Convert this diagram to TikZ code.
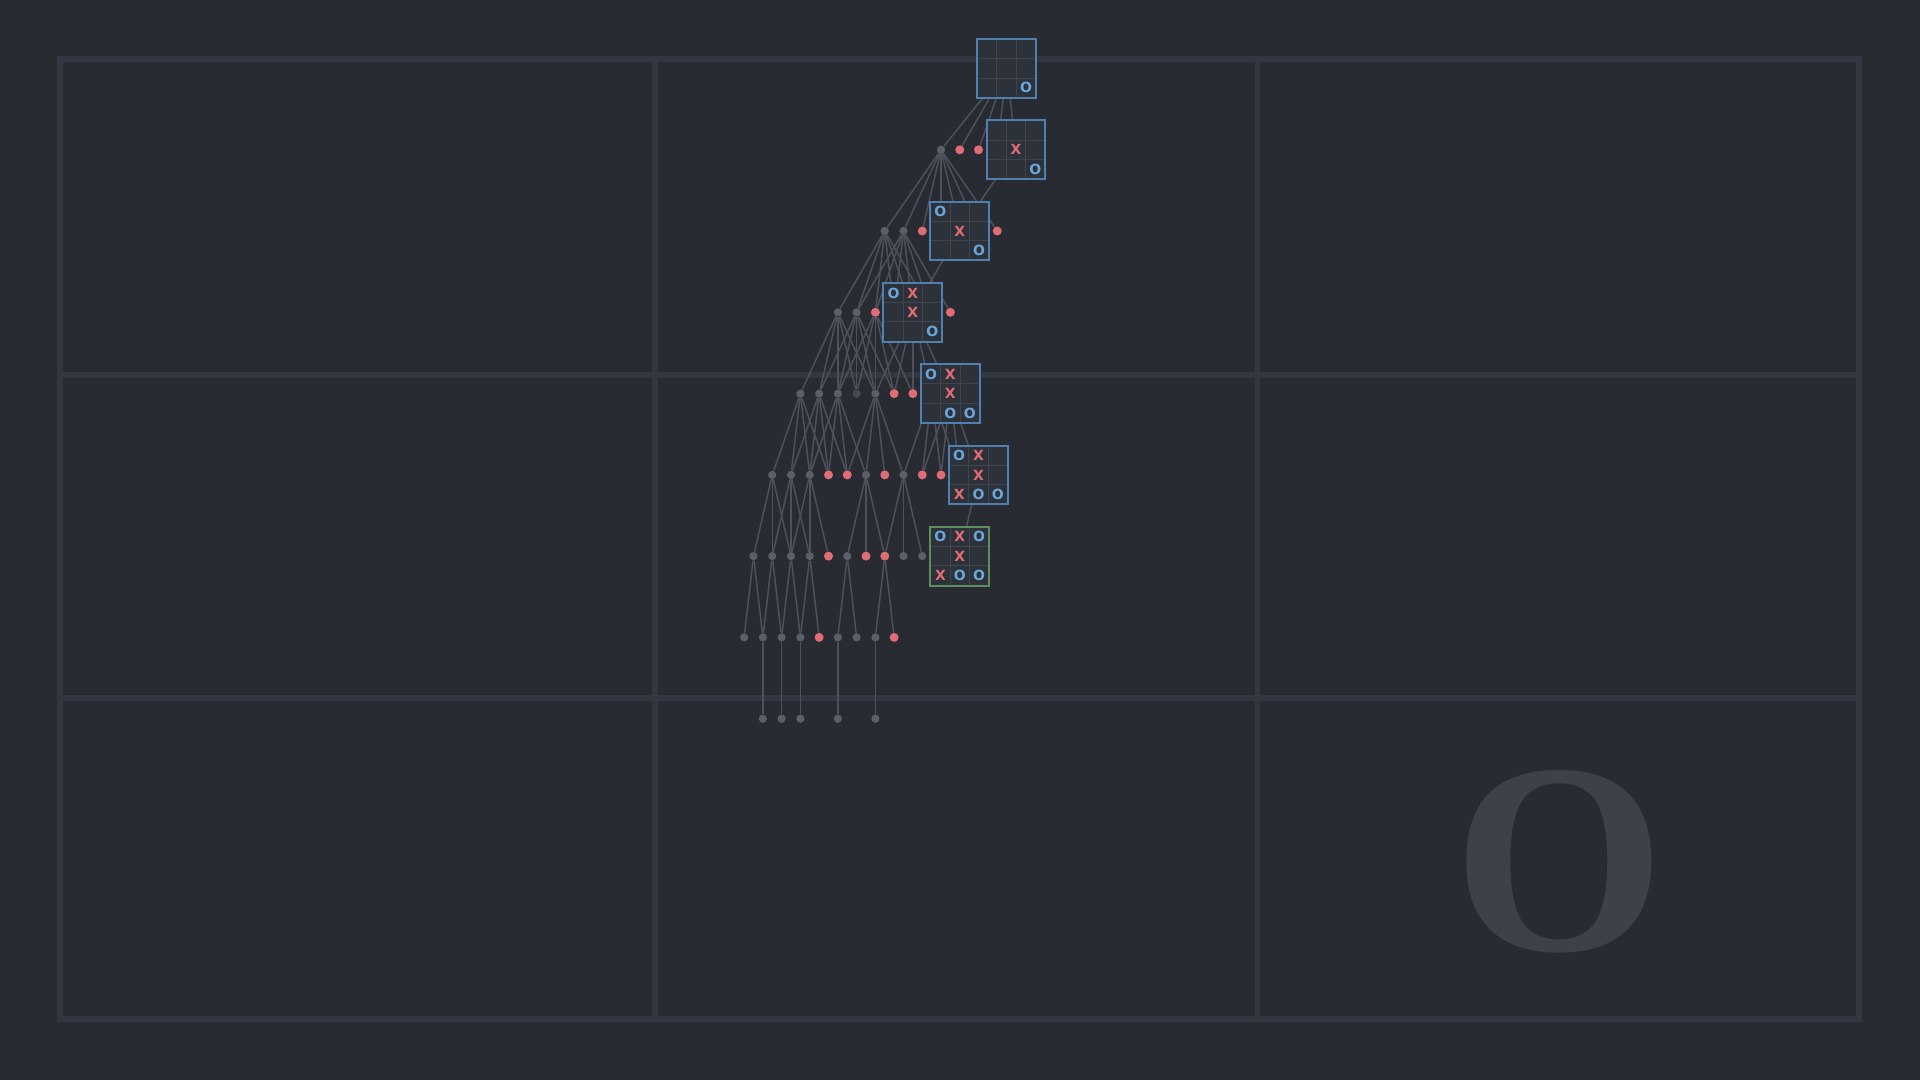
\documentclass[tikz,border=0pt]{standalone}
\usepackage{fontspec}
\newfontfamily\markfont{DejaVu Sans}
\newfontfamily\bigserif{Liberation Serif}
\definecolor{bgc}{HTML}{282B32}
\definecolor{gridc}{HTML}{333741}
\definecolor{edgec}{HTML}{4D515B}
\definecolor{gdotc}{HTML}{5B5F6A}
\definecolor{ddotc}{HTML}{464953}
\definecolor{rdotc}{HTML}{E06C75}
\definecolor{boardfill}{HTML}{2D3139}
\definecolor{cellc}{HTML}{40444E}
\definecolor{blueb}{HTML}{5080B0}
\definecolor{greenb}{HTML}{5F8D5F}
\definecolor{xc}{HTML}{E06C75}
\definecolor{oc}{HTML}{6AA8DC}
\definecolor{bigoc}{HTML}{3D414A}
\pgfdeclarelayer{under}
\pgfsetlayers{under,main}
\tikzset{
  gdot/.style={circle,fill=gdotc,inner sep=0pt,minimum size=4.1pt},
  ddot/.style={gdot,fill=ddotc},
  rdot/.style={circle,fill=rdotc,inner sep=0pt,minimum size=4.5pt},
  board/.style={rectangle,fill=boardfill,inner sep=0pt,minimum size=29pt},
  link/.style={draw=edgec,line width=0.75pt},
  cellline/.style={draw=cellc,line width=0.5pt},
  Xmk/.style={text=xc,font=\markfont\bfseries\fontsize{7}{7}\selectfont,inner sep=0pt},
  Omk/.style={text=oc,font=\markfont\bfseries\fontsize{7}{7}\selectfont,inner sep=0pt},
  gridline/.style={draw=gridc,line width=2.8pt},
}
\newcommand\nd[4]{\node[#1] (#2) at ({941+9.375*(#3)},#4) {};}
\newcommand\tttboard[5]{%
  \node[board] (#1) at ({941+9.375*(#2)},#3) {};
  \begin{scope}[shift={(#1.center)}]
    \draw[cellline] (-9.67,-29) -- (-9.67,29);
    \draw[cellline] (9.67,-29) -- (9.67,29);
    \draw[cellline] (-29,-9.67) -- (29,-9.67);
    \draw[cellline] (-29,9.67) -- (29,9.67);
    \foreach \c/\m in {#4}{%
      \pgfmathtruncatemacro\rr{\c/3}%
      \pgfmathtruncatemacro\cc{\c-3*\rr}%
      \node[\m mk] (#1-\c) at ({(\cc-1)*19.33},{(\rr-1)*19.33}) {\m};
    }
  \end{scope}
  \draw[draw=#5,line width=1pt] (#1.north west) rectangle (#1.south east);
}
\begin{document}
\begin{tikzpicture}[x=0.5pt,y=-0.5pt]
\useasboundingbox (0,0) rectangle (1920,1080);
\begin{pgfonlayer}{under}
  \fill[bgc] (0,0) rectangle (1920,1080);
  \draw[gridline] (60,59) rectangle (1859,1019);
  \draw[gridline] (655,59) -- (655,1019);
  \draw[gridline] (1257.6,59) -- (1257.6,1019);
  \draw[gridline] (60,374.7) -- (1859,374.7);
  \draw[gridline] (60,697.7) -- (1859,697.7);
  \node[text=bigoc,font=\bigserif\bfseries\fontsize{136}{136}\selectfont,inner sep=0pt,anchor=base] (bigO) at (1558.8,950) {O};
\end{pgfonlayer}
% level 1
\nd{gdot}{L1p0}{0}{149.8}
\nd{rdot}{L1p2}{2}{149.8}
\nd{rdot}{L1p4}{4}{149.8}
\nd{gdot}{L1p6}{6}{149.8}
% level 2
\nd{gdot}{L2m6}{-6}{231.0}
\nd{gdot}{L2m4}{-4}{231.0}
\nd{rdot}{L2m2}{-2}{231.0}
\nd{gdot}{L2p0}{0}{231.0}
\nd{gdot}{L2p4}{4}{231.0}
\nd{rdot}{L2p6}{6}{231.0}
% level 3
\nd{gdot}{L3m11}{-11}{312.3}
\nd{gdot}{L3m9}{-9}{312.3}
\nd{rdot}{L3m7}{-7}{312.3}
\nd{gdot}{L3m5}{-5}{312.3}
\nd{gdot}{L3m1}{-1}{312.3}
\nd{rdot}{L3p1}{1}{312.3}
% level 4
\nd{gdot}{L4m15}{-15}{393.6}
\nd{gdot}{L4m13}{-13}{393.6}
\nd{gdot}{L4m11}{-11}{393.6}
\nd{ddot}{L4m9}{-9}{393.6}
\nd{gdot}{L4m7}{-7}{393.6}
\nd{rdot}{L4m5}{-5}{393.6}
\nd{rdot}{L4m3}{-3}{393.6}
\nd{gdot}{L4m1}{-1}{393.6}
% level 5
\nd{gdot}{L5m18}{-18}{474.9}
\nd{gdot}{L5m16}{-16}{474.9}
\nd{gdot}{L5m14}{-14}{474.9}
\nd{rdot}{L5m12}{-12}{474.9}
\nd{rdot}{L5m10}{-10}{474.9}
\nd{gdot}{L5m8}{-8}{474.9}
\nd{rdot}{L5m6}{-6}{474.9}
\nd{gdot}{L5m4}{-4}{474.9}
\nd{rdot}{L5m2}{-2}{474.9}
\nd{rdot}{L5p0}{0}{474.9}
\nd{gdot}{L5p2}{2}{474.9}
% level 6
\nd{gdot}{L6m20}{-20}{556.1}
\nd{gdot}{L6m18}{-18}{556.1}
\nd{gdot}{L6m16}{-16}{556.1}
\nd{gdot}{L6m14}{-14}{556.1}
\nd{rdot}{L6m12}{-12}{556.1}
\nd{gdot}{L6m10}{-10}{556.1}
\nd{rdot}{L6m8}{-8}{556.1}
\nd{rdot}{L6m6}{-6}{556.1}
\nd{gdot}{L6m4}{-4}{556.1}
\nd{gdot}{L6m2}{-2}{556.1}
% level 7
\nd{gdot}{L7m21}{-21}{637.4}
\nd{gdot}{L7m19}{-19}{637.4}
\nd{gdot}{L7m17}{-17}{637.4}
\nd{gdot}{L7m15}{-15}{637.4}
\nd{rdot}{L7m13}{-13}{637.4}
\nd{gdot}{L7m11}{-11}{637.4}
\nd{gdot}{L7m9}{-9}{637.4}
\nd{gdot}{L7m7}{-7}{637.4}
\nd{rdot}{L7m5}{-5}{637.4}
% level 8
\nd{gdot}{L8m19}{-19}{718.7}
\nd{gdot}{L8m17}{-17}{718.7}
\nd{gdot}{L8m15}{-15}{718.7}
\nd{gdot}{L8m11}{-11}{718.7}
\nd{gdot}{L8m7}{-7}{718.7}
% boards (principal line)
\tttboard{B0}{7}{68.5}{8/O}{blueb}
\tttboard{B1}{8}{149.8}{4/X,8/O}{blueb}
\tttboard{B2}{2}{231.0}{0/O,4/X,8/O}{blueb}
\tttboard{B3}{-3}{312.3}{0/O,1/X,4/X,8/O}{blueb}
\tttboard{B4}{1}{393.6}{0/O,1/X,4/X,7/O,8/O}{blueb}
\tttboard{B5}{4}{474.9}{0/O,1/X,4/X,6/X,7/O,8/O}{blueb}
\tttboard{B6}{2}{556.1}{0/O,1/X,2/O,4/X,6/X,7/O,8/O}{greenb}
% connectors
\begin{pgfonlayer}{under}
  \foreach \t in {L1p0,L1p2,L1p4,L1p6,B1} \draw[link] (B0) -- (\t);
  \foreach \t in {L2m6,L2m4,L2m2,L2p0,B2,L2p4,L2p6} \draw[link] (L1p0) -- (\t);
  \draw[link] (B1) -- (B2);
  \foreach \t in {L3m11,L3m9,L3m7,L3m5,B3,L3m1} \draw[link] (L2m6) -- (\t);
  \foreach \t in {L3m9,L3m7,L3m5,B3,L3m1,L3p1} \draw[link] (L2m4) -- (\t);
  \draw[link] (B2) -- (B3);
  \foreach \t in {L4m15,L4m13,L4m11,L4m9,L4m7} \draw[link] (L3m11) -- (\t);
  \foreach \t in {L4m13,L4m11,L4m9,L4m7,L4m5} \draw[link] (L3m9) -- (\t);
  \foreach \t in {L4m11,L4m9,L4m7,L4m5,L4m3} \draw[link] (L3m7) -- (\t);
  \foreach \t in {L4m7,L4m5,L4m3,L4m1,B4} \draw[link] (B3) -- (\t);
  \foreach \t in {L5m18,L5m16,L5m14,L5m12} \draw[link] (L4m15) -- (\t);
  \foreach \t in {L5m16,L5m14,L5m12,L5m10} \draw[link] (L4m13) -- (\t);
  \foreach \t in {L5m14,L5m12,L5m10,L5m8} \draw[link] (L4m11) -- (\t);
  \foreach \t in {L5m10,L5m8,L5m6,L5m4} \draw[link] (L4m7) -- (\t);
  \foreach \t in {L5m4,L5m2,L5p0,L5p2} \draw[link] (L4m1) -- (\t);
  \foreach \t in {L5m2,L5p0,L5p2,B5} \draw[link] (B4) -- (\t);
  \foreach \t in {L6m20,L6m18,L6m16} \draw[link] (L5m18) -- (\t);
  \foreach \t in {L6m18,L6m16,L6m14} \draw[link] (L5m16) -- (\t);
  \foreach \t in {L6m16,L6m14,L6m12} \draw[link] (L5m14) -- (\t);
  \foreach \t in {L6m10,L6m8,L6m6} \draw[link] (L5m8) -- (\t);
  \foreach \t in {L6m6,L6m4,L6m2} \draw[link] (L5m4) -- (\t);
  \draw[link] (B5) -- (B6);
  \foreach \t in {L7m21,L7m19} \draw[link] (L6m20) -- (\t);
  \foreach \t in {L7m19,L7m17} \draw[link] (L6m18) -- (\t);
  \foreach \t in {L7m17,L7m15} \draw[link] (L6m16) -- (\t);
  \foreach \t in {L7m15,L7m13} \draw[link] (L6m14) -- (\t);
  \foreach \t in {L7m11,L7m9} \draw[link] (L6m10) -- (\t);
  \foreach \t in {L7m7,L7m5} \draw[link] (L6m6) -- (\t);
  \draw[link] (L7m19) -- (L8m19);
  \draw[link] (L7m17) -- (L8m17);
  \draw[link] (L7m15) -- (L8m15);
  \draw[link] (L7m11) -- (L8m11);
  \draw[link] (L7m7) -- (L8m7);
\end{pgfonlayer}
\end{tikzpicture}
\end{document}
